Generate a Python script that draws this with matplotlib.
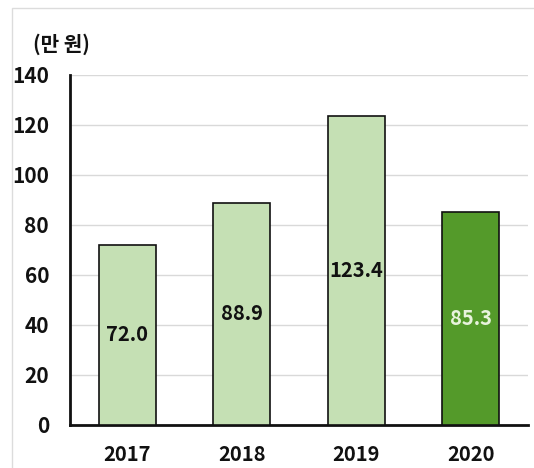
import matplotlib.pyplot as plt
from matplotlib.patches import Rectangle

plt.rcParams["font.family"] = ["Noto Sans CJK KR", "DejaVu Sans"]

YEARS = ["2017", "2018", "2019", "2020"]
AMOUNTS = [72.0, 88.9, 123.4, 85.3]
Y_TICKS = [0, 20, 40, 60, 80, 100, 120, 140]
UNIT_LABEL = "(만 원)"

LIGHT_GREEN = "#c5e0b4"
DARK_GREEN = "#549a2a"
BAR_COLORS = [LIGHT_GREEN, LIGHT_GREEN, LIGHT_GREEN, DARK_GREEN]
LABEL_COLORS = ["#111111", "#111111", "#111111", "#e8f3dc"]
GRID = "#d9d9d9"

fig = plt.figure(figsize=(5.34, 4.68), dpi=100)
fig.patches.append(
    Rectangle((0.022, -0.02), 1.0, 1.003, transform=fig.transFigure,
              fill=False, edgecolor="#dcdcdc", linewidth=1.0)
)
ax = fig.add_axes([0.131, 0.092, 0.858, 0.748])

x = range(len(YEARS))
bars = ax.bar(x, AMOUNTS, width=0.5, color=BAR_COLORS, edgecolor="#111111",
              linewidth=1.2, zorder=3)
for bar, value, color in zip(bars, AMOUNTS, LABEL_COLORS):
    ax.text(bar.get_x() + bar.get_width() / 2, value / 2, f"{value:.1f}",
            ha="center", va="center", fontsize=14.5, fontweight="bold",
            color=color, zorder=4)

ax.set_xlim(-0.5, len(YEARS) - 0.5)
ax.set_ylim(0, 140)
ax.set_yticks(Y_TICKS)
ax.set_yticklabels([str(t) for t in Y_TICKS], fontsize=15, fontweight="bold")
ax.set_xticks(list(x))
ax.set_xticklabels(YEARS, fontsize=14.5, fontweight="bold")
ax.tick_params(axis="both", length=0, colors="#111111")
ax.tick_params(axis="y", pad=15)
ax.tick_params(axis="x", pad=14)

ax.grid(axis="y", color=GRID, linewidth=1.0, zorder=0)
ax.set_axisbelow(True)
for spine in ("top", "right"):
    ax.spines[spine].set_visible(False)
for spine in ("left", "bottom"):
    ax.spines[spine].set_color("#111111")
    ax.spines[spine].set_linewidth(2.0)

fig.text(0.062, 0.905, UNIT_LABEL, fontsize=14.5, fontweight="bold",
         color="#111111", ha="left", va="center")

fig.savefig("out.png", dpi=100)
